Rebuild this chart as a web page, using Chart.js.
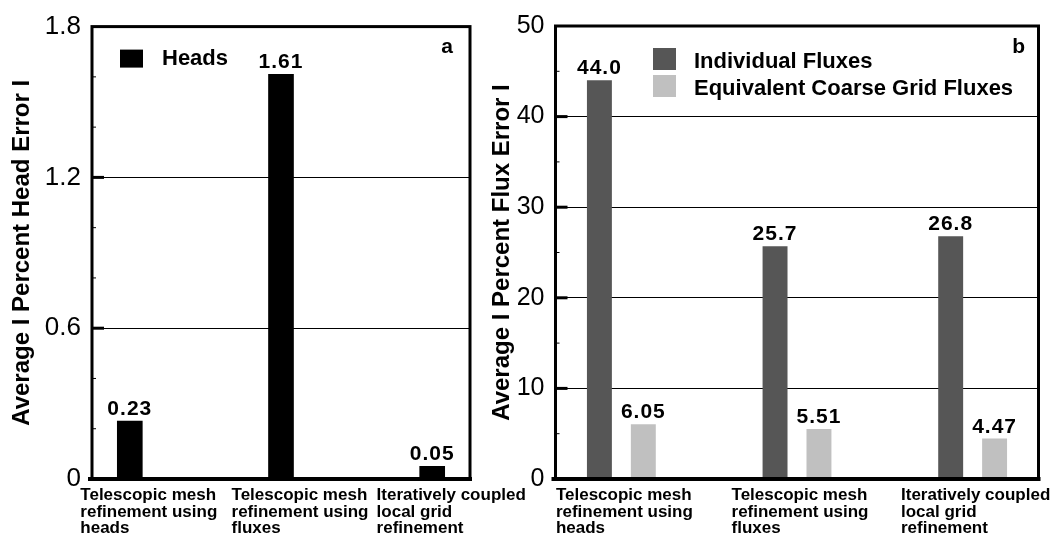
<!DOCTYPE html>
<html>
<head>
<meta charset="utf-8">
<script src="https://cdn.jsdelivr.net/npm/chart.js@4.4.0/dist/chart.umd.min.js"></script>
<style>
  html, body { margin: 0; padding: 0; background: #fff; }
  #wrap { position: relative; width: 1050px; height: 539px; }
  #wrap canvas { position: absolute; left: 0; top: 0; }
</style>
</head>
<body>
<div id="wrap">
  <canvas id="chartA" width="1050" height="539"></canvas>
  <canvas id="chartB" width="1050" height="539"></canvas>
</div>
<script>
// categorieen (3 methoden)
const categories = [
    ["Telescopic mesh", "refinement using", "heads"],
    ["Telescopic mesh", "refinement using", "fluxes"],
    ["Iteratively coupled", "local grid", "refinement"]
];

// paneel a
const headErrors = [0.23, 1.61, 0.05];
const headTicks = [0, 0.6, 1.2, 1.8];

// paneel b
const individualFluxErrors = [44.0, 25.7, 26.8];
const coarseFluxErrors = [6.05, 5.51, 4.47];
const fluxTicks = [0, 10, 20, 30, 40, 50];

const FONT = "'Liberation Sans', Arial, Helvetica, sans-serif";

const toPoints = arr => arr.map((v, i) => ({ x: i, y: v }));
const isMajor = (majors, v) => majors.some(m => Math.abs(m - v) < 1e-6);

// frame, binnenste ticks, waardelabels, legenda en categorielabels
const panelPlugin = {
    id: "panel",
    afterDatasetsDraw(chart, args, opts) {
        const ctx = chart.ctx;
        const area = chart.chartArea;
        const ys = chart.scales.y;
        const xs = chart.scales.x;
        ctx.save();
        ctx.strokeStyle = "#000";

        ys.ticks.forEach(t => {
            if (t.value === ys.min || t.value === ys.max) return;
            const py = ys.getPixelForValue(t.value);
            const major = isMajor(opts.majors, t.value);
            ctx.lineWidth = major ? 3 : 1;
            ctx.beginPath();
            ctx.moveTo(area.left, py);
            ctx.lineTo(area.left + (major ? 12 : 4), py);
            ctx.stroke();
        });

        ctx.lineWidth = 3;
        ctx.strokeRect(area.left, area.top, area.right - area.left, area.bottom - area.top);
        ctx.lineWidth = 4;
        ctx.beginPath();
        ctx.moveTo(area.left - 4, area.bottom);
        ctx.lineTo(area.right + 2, area.bottom);
        ctx.stroke();

        // waarden boven de staven
        ctx.fillStyle = "#000";
        ctx.font = "bold 21px " + FONT;
        ctx.letterSpacing = "1px";
        ctx.textAlign = "center";
        ctx.textBaseline = "alphabetic";
        chart.data.datasets.forEach((ds, i) => {
            chart.getDatasetMeta(i).data.forEach((bar, j) => {
                ctx.fillText(ds.data[j].y.toFixed(ds.digits), bar.x, bar.y - 6);
            });
        });
        ctx.letterSpacing = "0px";

        // legenda
        ctx.font = "bold 22px " + FONT;
        ctx.textAlign = "left";
        chart.data.datasets.forEach((ds, i) => {
            const bx = area.left + opts.legendX;
            const by = area.top + opts.legendY + i * opts.legendStep;
            ctx.fillStyle = ds.backgroundColor;
            ctx.fillRect(bx, by, opts.box[0], opts.box[1]);
            ctx.fillStyle = "#000";
            ctx.fillText(ds.label, bx + opts.textGap, by + opts.box[1] - 2.5);
        });

        // paneelletter
        ctx.font = "bold 21px " + FONT;
        ctx.textAlign = "right";
        ctx.fillText(opts.letter, area.right - opts.letterRight, area.top + opts.letterTop);

        // categorielabels onder de as
        ctx.font = "bold 17px " + FONT;
        ctx.textAlign = "left";
        categories.forEach((lines, i) => {
            const cx = xs.getPixelForValue(i) + opts.labelShift;
            const w = Math.max(...lines.map(l => ctx.measureText(l).width));
            lines.forEach((l, k) => ctx.fillText(l, cx - w / 2, area.bottom + 21 + k * 16.7));
        });
        ctx.restore();
    }
};

function xAxis(min, max) {
    return {
        type: "linear",
        min: min,
        max: max,
        offset: false,
        bounds: "ticks",
        afterBuildTicks: s => { s.ticks = categories.map((c, i) => ({ value: i })); },
        afterFit: s => { s.height = 60; },
        ticks: { display: false },
        grid: { display: false },
        border: { display: false }
    };
}

function yAxis(max, step, majors, title, width, fontSize, fmt) {
    return {
        min: 0,
        max: max,
        afterFit: s => { s.width = width; },
        ticks: {
            stepSize: step,
            padding: 11,
            color: "#000",
            font: { family: FONT, size: fontSize },
            callback: v => isMajor(majors, v) ? fmt(v) : ""
        },
        grid: {
            drawTicks: false,
            lineWidth: 1,
            color: c => (isMajor(majors, c.tick.value) && c.tick.value !== 0 && c.tick.value !== max) ? "#000" : "rgba(0,0,0,0)"
        },
        border: { display: false },
        title: {
            display: true,
            text: title,
            color: "#000",
            font: { family: FONT, size: 24, weight: "bold" },
            padding: { top: 8, bottom: 0 }
        }
    };
}

new Chart(document.getElementById("chartA"), {
    type: "bar",
    data: {
        datasets: [{
            label: "Heads",
            data: toPoints(headErrors),
            backgroundColor: "#000000",
            barThickness: 25,
            digits: 2
        }]
    },
    options: {
        responsive: false,
        animation: false,
        devicePixelRatio: 1,
        events: [],
        layout: { padding: { left: 0, top: 16, right: 580, bottom: 0 } },
        scales: {
            x: xAxis(-0.25, 2.25),
            y: yAxis(1.8, 0.2, headTicks, "Average I Percent Head Error I", 92, 26, v => v === 0 ? "0" : v.toFixed(1))
        },
        plugins: {
            legend: { display: false },
            tooltip: { enabled: false },
            panel: {
                majors: headTicks, letter: "a", letterRight: 17, letterTop: 26,
                legendX: 28, legendY: 23, legendStep: 27, box: [23, 18], textGap: 42,
                labelShift: 19
            }
        }
    },
    plugins: [panelPlugin]
});

new Chart(document.getElementById("chartB"), {
    type: "bar",
    data: {
        datasets: [{
            label: "Individual Fluxes",
            data: toPoints(individualFluxErrors),
            backgroundColor: "#565656",
            categoryPercentage: 0.5,
            barPercentage: 0.568,
            digits: 1
        }, {
            label: "Equivalent Coarse Grid Fluxes",
            data: toPoints(coarseFluxErrors),
            backgroundColor: "#c0c0c0",
            categoryPercentage: 0.5,
            barPercentage: 0.568,
            digits: 2
        }]
    },
    options: {
        responsive: false,
        animation: false,
        devicePixelRatio: 1,
        events: [],
        layout: { padding: { left: 480, top: 16, right: 11.5, bottom: 0 } },
        scales: {
            x: xAxis(-0.375, 2.375),
            y: yAxis(50, 5, fluxTicks, "Average I Percent Flux Error I", 75.5, 25, v => String(v))
        },
        plugins: {
            legend: { display: false },
            tooltip: { enabled: false },
            panel: {
                majors: fluxTicks, letter: "b", letterRight: 13.5, letterTop: 27,
                legendX: 97.5, legendY: 22, legendStep: 27, box: [23, 22], textGap: 41,
                labelShift: 3
            }
        }
    },
    plugins: [panelPlugin]
});
</script>
</body>
</html>
